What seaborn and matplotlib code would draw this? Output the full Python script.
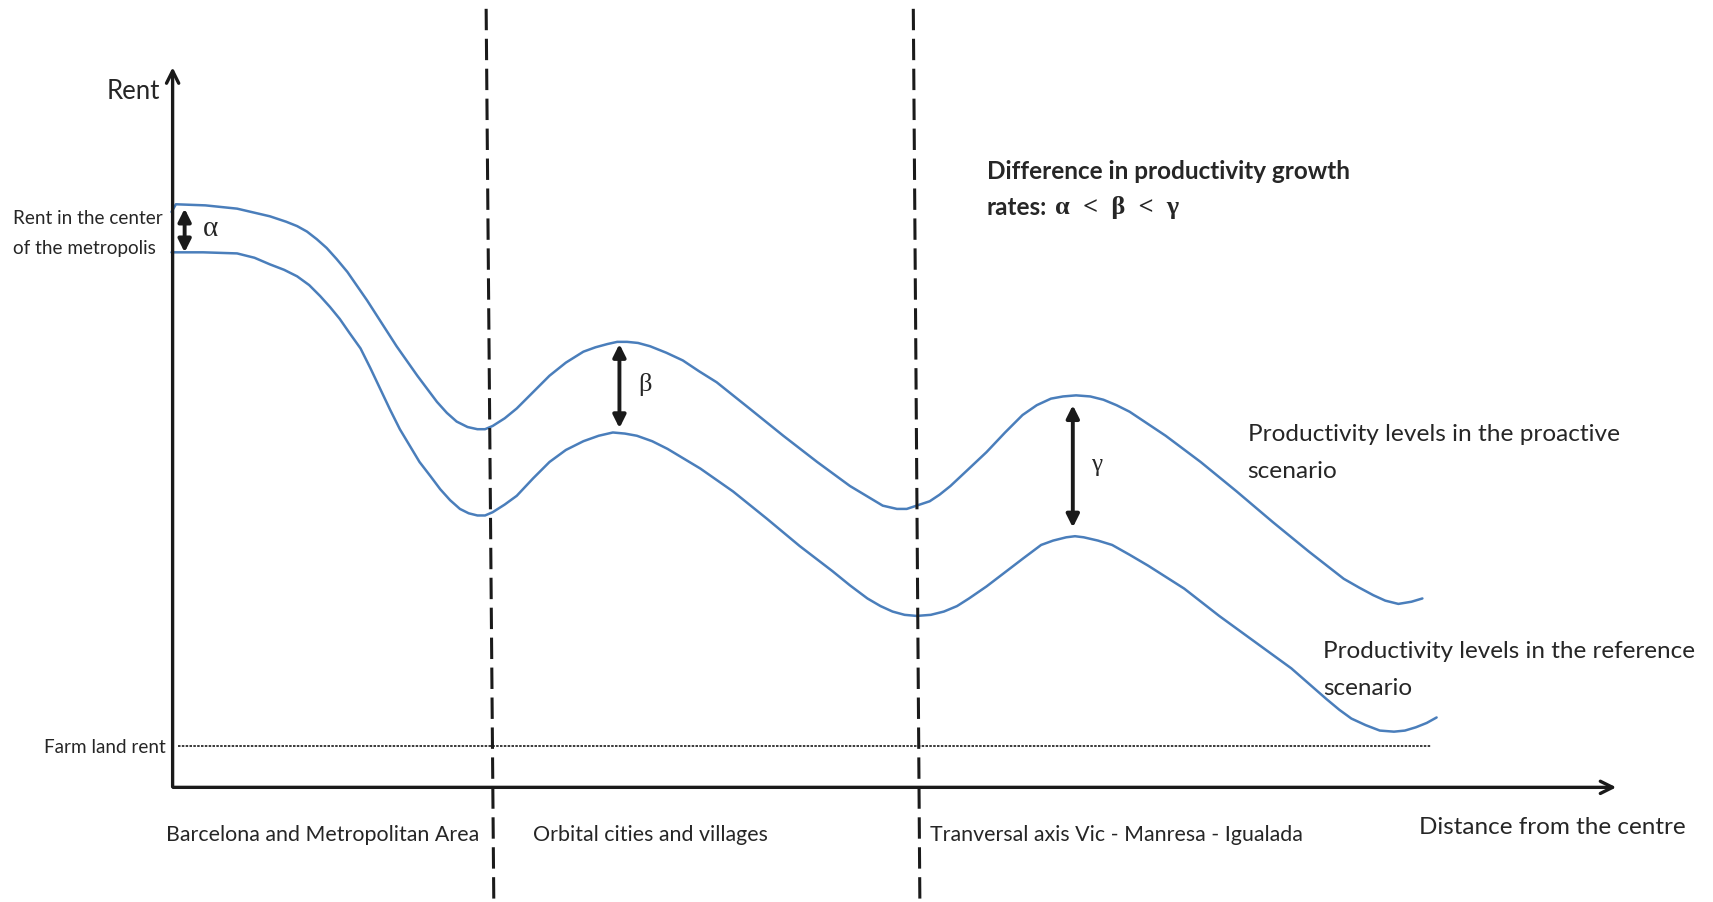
import pandas as pd
import seaborn as sns
from matplotlib import pyplot as plt

# schematic units: distance from the centre (x) and rent level (y)
proactive_dist = [-1, 3, 30, 59, 89, 104, 114, 123, 132, 141, 150, 160, 169, 178, 187, 205, 224,
                  242, 251, 260, 270, 279, 286, 293, 304, 315, 330, 345, 360, 376, 387, 398, 407,
                  416, 426, 437, 452, 467, 482, 498, 528, 559, 590, 620, 635, 650, 663, 672, 681,
                  693, 702, 712, 728, 745, 762, 778, 791, 804, 815, 827, 840, 852, 864, 876, 909,
                  941, 974, 1007, 1040, 1072, 1086, 1099, 1110, 1122, 1134, 1144]
proactive_rent = [527, 534, 533, 530, 523, 518, 514, 509, 502, 494, 484, 472, 459, 446, 432, 404, 377,
                  353, 343, 335, 330, 328, 328, 331, 338, 347, 362, 377, 389, 399, 403, 406, 408,
                  408, 407, 404, 398, 391, 381, 371, 347, 322, 298, 276, 267, 258, 255, 255, 258,
                  262, 268, 276, 291, 307, 325, 341, 350, 356, 358, 359, 358, 355, 350, 344, 322,
                  298, 271, 243, 216, 191, 183, 176, 171, 168, 170, 173]

reference_dist = [-1, 28, 59, 75, 89, 102, 114, 125, 135, 144, 153, 162, 172, 181, 190, 199, 208,
                  226, 236, 245, 254, 263, 271, 279, 286, 293, 304, 315, 330, 345, 360, 376, 390,
                  403, 414, 425, 439, 453, 483, 513, 544, 574, 604, 620, 636, 648, 659, 670, 681,
                  694, 706, 718, 729, 745, 762, 779, 795, 806, 818, 826, 834, 847, 860, 876, 893,
                  926, 958, 991, 1024, 1056, 1068, 1079, 1092, 1105, 1118, 1128, 1138, 1148, 1157]
reference_rent = [490, 490, 489, 485, 479, 474, 468, 460, 450, 440, 429, 416, 402, 384, 365, 346, 328,
                  298, 285, 273, 263, 255, 251, 249, 249, 252, 259, 267, 283, 298, 309, 317, 322,
                  325, 324, 322, 317, 310, 292, 271, 246, 221, 198, 185, 173, 166, 161, 158, 157,
                  158, 161, 166, 173, 184, 197, 210, 222, 226, 229, 230, 229, 226, 222, 213, 203,
                  182, 157, 133, 109, 81, 71, 63, 57, 52, 51, 52, 55, 59, 64]

farm_rent = 38
farm_span = [5, 1152]

# growth-gap markers: (distance, lower rent, upper rent, symbol)
gap_dist = [11, 409, 824]
gap_low = [490, 329, 238]
gap_high = [530, 406, 350]
gap_symbol = ['α', 'β', 'γ']
gap_size = [21, 19, 18]

# zone boundaries (top / bottom of the dashed separators)
boundary_top_dist = [287, 678]
boundary_bot_dist = [294, 684]

zone_labels = ['Barcelona and Metropolitan Area', 'Orbital cities and villages',
               'Tranversal axis Vic - Manresa - Igualada']
zone_label_dist = [-6, 330, 693]

BLUE = '#4a7ebb'
sns.set_theme(style='white')
plt.rcParams['font.family'] = ['Lato', 'DejaVu Sans']

fig = plt.figure(figsize=(17.13, 9.03), dpi=100)
ax = fig.add_axes([0, 0, 1, 1])
ax.set_xlim(-158, 1410)
ax.set_ylim(-105, 722)
ax.axis('off')

curves = pd.concat([
    pd.DataFrame({'distance': proactive_dist, 'rent': proactive_rent, 'scenario': 'proactive'}),
    pd.DataFrame({'distance': reference_dist, 'rent': reference_rent, 'scenario': 'reference'}),
])
sns.lineplot(data=curves, x='distance', y='rent', units='scenario', estimator=None,
             sort=False, color=BLUE, lw=1.8, ax=ax, legend=False)
for line in ax.lines:
    line.set_solid_joinstyle('round')
    line.set_solid_capstyle('round')

# axes with arrow heads
ax.annotate('', xy=(0, 662), xytext=(0, -2),
            arrowprops=dict(arrowstyle='->', lw=2.4, color='k', mutation_scale=22))
ax.annotate('', xy=(1324, 0), xytext=(-2, 0),
            arrowprops=dict(arrowstyle='->', lw=2.4, color='k', mutation_scale=22))

# farm land rent level
ax.plot(farm_span, [farm_rent, farm_rent], color='k', lw=1.2, ls=(0, (1.5, 0.8)))

# zone separators
for top, bot in zip(boundary_top_dist, boundary_bot_dist):
    ax.plot([top, bot], [713, -105], color='k', lw=2.2, dashes=(7, 2.8))

# gap arrows and symbols
for d, lo, hi, sym, fs in zip(gap_dist, gap_low, gap_high, gap_symbol, gap_size):
    ax.annotate('', xy=(d, hi), xytext=(d, lo),
                arrowprops=dict(arrowstyle='<|-|>', lw=2.8, color='k', mutation_scale=19,
                                shrinkA=0, shrinkB=0))
    ax.text(d + 17, (lo + hi) / 2 + 2, sym, family='Liberation Serif', fontsize=fs,
            ha='left', va='center')

# text
ax.text(-36, 638, 'Rent', fontsize=18.5, ha='center', va='center')
ax.text(-146, 522, 'Rent in the center', fontsize=13.6, ha='left', va='center')
ax.text(-146, 494, 'of the metropolis', fontsize=13.6, ha='left', va='center')
ax.text(-6, 37, 'Farm land rent', fontsize=13.6, ha='right', va='center')
for lab, d in zip(zone_labels, zone_label_dist):
    ax.text(d, -43, lab, fontsize=15.4, ha='left', va='center')
ax.text(1141, -36, 'Distance from the centre', fontsize=17.5, ha='left', va='center')

ax.text(745, 565, 'Difference in productivity growth', fontsize=17.5, weight='bold',
        ha='left', va='center')
ax.text(745, 532, 'rates:', fontsize=17.5, weight='bold', ha='left', va='center')
ax.text(808, 532, 'α  <  β  <  γ', family='Liberation Serif', fontsize=19, weight='bold',
        ha='left', va='center')

ax.text(984, 324, 'Productivity levels in the proactive', fontsize=17.6, ha='left', va='center')
ax.text(984, 290, 'scenario', fontsize=17.6, ha='left', va='center')
ax.text(1053, 125, 'Productivity levels in the reference', fontsize=17.5, ha='left', va='center')
ax.text(1053, 91, 'scenario', fontsize=17.5, ha='left', va='center')

fig.savefig('out.png', dpi=100)
